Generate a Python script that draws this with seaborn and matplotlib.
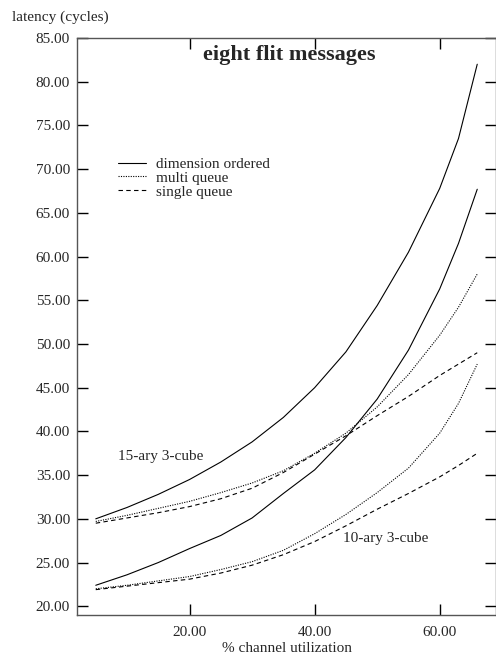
import numpy as np
import pandas as pd
import matplotlib
matplotlib.use("Agg")
import matplotlib.pyplot as plt
import seaborn as sns

# % channel utilization where the model was evaluated
util = [5, 10, 15, 20, 25, 30, 35, 40, 45, 50, 55, 60, 63, 66]

# 15-ary 3-cube latencies (cycles)
k15_dim = [30.0, 31.3, 32.8, 34.5, 36.5, 38.8, 41.6, 45.0, 49.1, 54.4, 60.5, 67.8, 73.5, 82.0]
k15_multi = [29.7, 30.4, 31.2, 32.0, 33.0, 34.1, 35.5, 37.5, 39.8, 42.8, 46.5, 51.0, 54.2, 58.0]
k15_single = [29.5, 30.1, 30.7, 31.4, 32.3, 33.5, 35.3, 37.4, 39.5, 41.8, 44.0, 46.4, 47.7, 49.0]

# 10-ary 3-cube latencies (cycles)
k10_dim = [22.4, 23.6, 25.0, 26.6, 28.1, 30.1, 32.9, 35.6, 39.3, 43.7, 49.3, 56.3, 61.5, 67.7]
k10_multi = [22.0, 22.4, 22.9, 23.4, 24.2, 25.1, 26.4, 28.3, 30.5, 33.0, 35.8, 39.8, 43.2, 47.7]
k10_single = [21.9, 22.3, 22.7, 23.1, 23.8, 24.7, 25.9, 27.4, 29.2, 31.1, 32.9, 34.8, 36.1, 37.5]

schemes = ["dimension ordered", "multi queue", "single queue"]
yticks = [20, 25, 30, 35, 40, 45, 50, 55, 60, 65, 70, 75, 80, 85]
xticks = [20, 40, 60]

rows = []
for net, series in [("15-ary", [k15_dim, k15_multi, k15_single]),
                    ("10-ary", [k10_dim, k10_multi, k10_single])]:
    for s, vals in zip(schemes, series):
        for u, v in zip(util, vals):
            rows.append({"util": u, "latency": v, "scheme": s, "net": net})
df = pd.DataFrame(rows)

sns.set_style("ticks")
plt.rcParams["font.family"] = ["Liberation Serif", "DejaVu Serif"]
plt.rcParams["font.size"] = 11

fig = plt.figure(figsize=(4.96, 6.56), dpi=100)
ax = fig.add_axes([77 / 496, 41 / 656, 419 / 496, 577 / 656])

sns.lineplot(data=df, x="util", y="latency", style="scheme", units="net",
             estimator=None, color="black", linewidth=0.8, ax=ax,
             style_order=schemes,
             dashes={"dimension ordered": "", "multi queue": (1, 1.2),
                     "single queue": (4, 3)})

ax.set_xlim(2, 69)
ax.set_ylim(19, 85)
ax.set_xticks(xticks)
ax.set_yticks(yticks)
ax.set_xticklabels(["%.2f" % t for t in xticks])
ax.set_yticklabels(["%.2f" % t for t in yticks])
ax.tick_params(direction="in", length=8, width=1, color="black",
               top=True, right=True, labelsize=11)
ax.tick_params(axis="x", pad=8)
ax.tick_params(axis="y", pad=5)
for sp in ax.spines.values():
    sp.set_color("#555555")
    sp.set_linewidth(1)

ax.set_xlabel("% channel utilization", fontsize=11, labelpad=2)
ax.set_ylabel("")
fig.text(12 / 496, 1 - 17 / 656, "latency (cycles)", fontsize=11,
         ha="left", va="center")

ax.text(36, 83.0, "eight flit messages", fontsize=16, fontweight="bold",
        ha="center", va="center")
ax.text(8.6, 37.1, "15-ary 3-cube", fontsize=11, ha="left", va="center")
ax.text(44.5, 27.8, "10-ary 3-cube", fontsize=11, ha="left", va="center")

ax.legend(loc="upper left", bbox_to_anchor=(0.098, 0.793), frameon=False,
          handlelength=1.8, handletextpad=0.7, labelspacing=0.0,
          borderaxespad=0, borderpad=0, fontsize=11)

fig.savefig("out.png", dpi=100)
